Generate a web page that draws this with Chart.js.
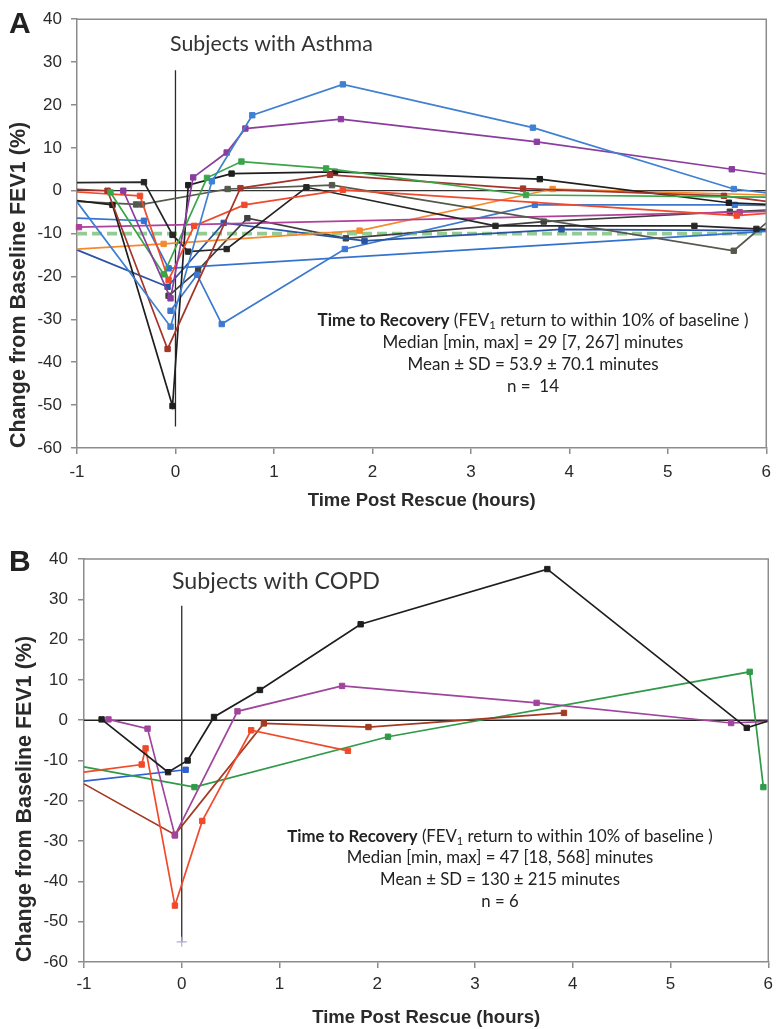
<!DOCTYPE html>
<html><head><meta charset="utf-8">
<script src="https://cdn.jsdelivr.net/npm/chart.js@4.4.1/dist/chart.umd.min.js"></script>
<style>
html,body{margin:0;padding:0;background:#fff;width:779px;height:1029px;overflow:hidden}
#wa{position:absolute;left:0;top:0;width:779px;height:515px}
#wb{position:absolute;left:0;top:515px;width:779px;height:514px}
canvas{display:block}
</style></head><body>
<div id="wa"><canvas id="ca" width="779" height="515" style="width:779px;height:515px"></canvas></div>
<div id="wb"><canvas id="cb" width="779" height="514" style="width:779px;height:514px"></canvas></div>
<script>
// ---------- DATA (hours after rescue, % change from baseline FEV1) ----------
const xTickMin = -1, xTickMax = 6;
const yTickMin = -60, yTickMax = 40;

// Panel A: subjects with asthma (n = 14)
const asthmaBlue1   = [[-1,-2.6],[-0.05,-31.7],[0.37,2.2],[0.78,17.6],[1.7,24.8],[3.63,14.7],[5.67,0.4],[6,-0.5]];
const asthmaPurple  = [[-0.53,0],[-0.05,-25.1],[0.18,3.1],[0.52,8.9],[0.71,14.5],[1.68,16.7],[3.67,11.4],[5.65,5.0],[6,3.9]];
const asthmaGreen   = [[-0.66,-0.4],[-0.12,-19.5],[0.32,3.0],[0.67,6.8],[1.53,5.2],[3.56,-1.0],[6,-1.5]];
const asthmaDarkRed = [[-1,0.3],[-0.69,0],[-0.08,-36.9],[0.66,0.6],[1.57,3.7],[3.53,0.5],[5.57,-1.2],[6,-2.5]];
const asthmaRed     = [[-1,-0.3],[-0.36,-1.2],[-0.07,-20.8],[0.19,-8.2],[0.7,-3.3],[1.7,0.2],[5.7,-5.8],[6,-5.3]];
const asthmaBlack1  = [[-1,1.9],[-0.32,2.0],[-0.03,-10.3],[0.13,-14.2],[0.52,-13.6],[1.33,0.8],[3.25,-8.2],[5.27,-8.2],[5.9,-8.9],[6,-9]];
const asthmaBlack2  = [[-1,-2.3],[-0.64,-3.3],[-0.03,-50.2],[0.13,1.3],[0.57,4.0],[1.62,4.4],[3.7,2.7],[5.62,-2.8],[6,-3.2]];
const asthmaOlive   = [[-1,-2.5],[-0.4,-3.2],[-0.34,-3.2],[0.53,0.4],[1.59,1.3],[5.67,-14],[6,-7.5]];
const asthmaBlue3   = [[-1,-6.4],[-0.32,-7.0],[-0.07,-18.1],[6,-9.5]];
const asthmaMagenta = [[-0.98,-8.5],[5.73,-5.0],[6,-4.8]];
const asthmaOrange  = [[-1,-13.6],[-0.12,-12.4],[1.87,-9.3],[3.83,0.4],[6,-1]];
const asthmaNavy    = [[-1,-13.8],[-0.08,-22.4],[0.49,-7.5],[1.92,-11.7],[3.92,-9.0],[6,-9.3]];
const asthmaBlue2   = [[-0.05,-28],[0.22,-19.6],[0.47,-31.1],[1.72,-13.6],[3.65,-3.3],[5.68,-3.3],[6,-3.4]];
const asthmaGray    = [[-0.07,-24.5],[0.23,-18.5],[0.73,-6.4],[1.73,-11.1],[3.74,-7.2],[5.63,-4.9],[6,-4.5]];
const recoveryBand  = [[-1,-10],[6,-10]];

// Panel B: subjects with COPD (n = 6)
const copdBlack  = [[-0.82,0.2],[-0.14,-12.9],[0.06,-10],[0.33,0.8],[0.8,7.5],[1.83,23.8],[3.74,37.5],[5.78,-1.9],[6,-0.2]];
const copdPurple = [[-0.75,0.2],[-0.35,-2.1],[-0.07,-28.6],[0.57,2.2],[1.64,8.5],[3.63,4.3],[5.62,-0.7],[6,-0.3]];
const copdRed    = [[-1,-12.9],[-0.41,-11],[-0.37,-7],[-0.07,-46],[0.21,-25],[0.71,-2.5],[1.7,-7.6]];
const copdBrown  = [[-1,-15.8],[-0.07,-28.4],[0.84,-0.8],[1.91,-1.7],[3.91,1.8]];
const copdGreen  = [[-1,-11.6],[0.13,-16.6],[2.11,-4.1],[5.81,12.0],[5.95,-16.6]];
const copdBlue   = [[-1,-15.1],[0.04,-12.3]];
const copdMarker = [[0,-55]];

// reference lines
const zeroLine    = [[-1,0],[6,0]];
const rescueLineA = [[0,28.1],[0,-55]];
const rescueLineB = [[0,28.4],[0,-55]];

// text
const xTitle = 'Time Post Rescue (hours)';
const yTitle = 'Change from Baseline FEV1 (%)';
const titleA = 'Subjects with Asthma';
const titleB = 'Subjects with COPD';
const statsA = ['Median [min, max] = 29 [7, 267] minutes', 'Mean \u00b1 SD = 53.9 \u00b1 70.1 minutes', 'n =  14'];
const statsB = ['Median [min, max] = 47 [18, 568] minutes', 'Mean \u00b1 SD = 130 \u00b1 215 minutes', 'n = 6'];

// ---------- RENDERING ----------
const axisFamily = '"Liberation Sans", Arial, sans-serif';
const textFamily = 'Lato, "Open Sans", sans-serif';
const toXY = a => a.map(([x, y]) => ({x, y}));

function series(data, color) {
  return {
    data: toXY(data), borderColor: color, backgroundColor: color, borderWidth: 1.7,
    pointStyle: 'rect', pointBorderWidth: 1,
    pointRadius: c => (c.raw && (c.raw.x <= xTickMin || c.raw.x >= xTickMax)) ? 0 : 3.8,
    tension: 0, fill: false, clip: 4
  };
}
function refLine(data, color, width, dash) {
  return {data: toXY(data), borderColor: color, backgroundColor: color, borderWidth: width,
    borderDash: dash || [], pointRadius: 0, tension: 0, fill: false, clip: 2};
}

function fitSize(ctx, text, weight, target) {
  ctx.font = `${weight} 20px ${textFamily}`;
  return 20 * target / ctx.measureText(text).width;
}

const panelText = {
  id: 'panelText',
  afterDraw(chart, args, o) {
    const {ctx, chartArea: ca} = chart;
    ctx.save();
    // frame top/right
    ctx.strokeStyle = '#8c8c8c'; ctx.lineWidth = 1.5;
    ctx.beginPath(); ctx.moveTo(ca.left, ca.top); ctx.lineTo(ca.right, ca.top); ctx.lineTo(ca.right, ca.bottom); ctx.stroke();
    // panel letter
    ctx.fillStyle = '#222'; ctx.textBaseline = 'middle'; ctx.textAlign = 'left';
    ctx.font = `bold 30px ${axisFamily}`;
    ctx.fillText(o.letter, o.letterX, o.letterY);
    // in-plot title
    const ts = fitSize(ctx, o.title, 'normal', o.titleW);
    ctx.fillStyle = '#333';
    ctx.font = `normal ${ts}px ${textFamily}`;
    ctx.fillText(o.title, o.titleX, o.titleY);
    // stats block
    const s = fitSize(ctx, o.stats[0], 'normal', o.statW);
    ctx.fillStyle = '#222';
    const segs = [
      {t: 'Time to Recovery', f: `bold ${s}px ${textFamily}`, dy: 0},
      {t: ' (FEV', f: `normal ${s}px ${textFamily}`, dy: 0},
      {t: '1', f: `normal ${s*0.66}px ${textFamily}`, dy: s*0.28},
      {t: ' return to within 10% of baseline )', f: `normal ${s}px ${textFamily}`, dy: 0}
    ];
    let total = 0;
    segs.forEach(g => { ctx.font = g.f; g.w = ctx.measureText(g.t).width; total += g.w; });
    let x = o.cx - total / 2;
    ctx.textAlign = 'left';
    segs.forEach(g => { ctx.font = g.f; ctx.fillText(g.t, x, o.ys[0] + g.dy); x += g.w; });
    ctx.textAlign = 'center';
    ctx.font = `normal ${s}px ${textFamily}`;
    o.stats.forEach((line, i) => ctx.fillText(line, o.cx, o.ys[i + 1]));
    ctx.restore();
  }
};

function scales(p) {
  return {
    x: {
      type: 'linear', min: xTickMin, max: xTickMax,
      ticks: {stepSize: 1, font: {size: 17, family: axisFamily}, color: '#2a2a2a', padding: p.xTickPad},
      grid: {drawOnChartArea: false, drawTicks: true, tickLength: 6, color: '#8c8c8c', lineWidth: 1.5},
      border: {display: true, color: '#8c8c8c', width: 1.5},
      title: {display: true, text: xTitle, font: {size: 18.5, weight: 'bold', family: axisFamily}, color: '#2a2a2a', padding: {top: 0, bottom: p.xTitlePad}},
      afterFit(s) { s.height = p.xHeight; }
    },
    y: {
      type: 'linear', min: yTickMin, max: yTickMax,
      ticks: {stepSize: 10, font: {size: 17, family: axisFamily}, color: '#2a2a2a', padding: p.yTickPad},
      grid: {drawOnChartArea: false, drawTicks: true, tickLength: 6, color: '#8c8c8c', lineWidth: 1.5},
      border: {display: true, color: '#8c8c8c', width: 1.5},
      title: {display: true, text: yTitle, align: 'start', font: {size: 21.5, weight: 'bold', family: axisFamily}, color: '#2a2a2a', padding: {top: p.yTitlePad, bottom: 0}},
      afterFit(s) { s.width = p.yWidth; }
    }
  };
}

const common = {
  responsive: false, animation: false, devicePixelRatio: 1,
  plugins: {legend: {display: false}, tooltip: {enabled: false}}
};

new Chart(document.getElementById('ca'), {
  type: 'line',
  data: {datasets: [
    series(asthmaBlue1, '#3f80d2'),
    series(asthmaPurple, '#8a3d9e'),
    series(asthmaGreen, '#3aa548'),
    series(asthmaDarkRed, '#a3352a'),
    series(asthmaRed, '#f0492c'),
    series(asthmaBlack1, '#262626'),
    series(asthmaBlack2, '#1e1e1e'),
    series(asthmaOlive, '#55584c'),
    series(asthmaBlue3, '#3372d0'),
    series(asthmaMagenta, '#b0409a'),
    series(asthmaOrange, '#f5892c'),
    series(asthmaNavy, '#2a54a3'),
    series(asthmaBlue2, '#3c78d0'),
    series(asthmaGray, '#404040'),
    refLine(rescueLineA, '#2a2a2a', 1.3),
    refLine(zeroLine, '#333333', 1.3),
    refLine(recoveryBand, '#93cc93', 3.6, [10, 5]),
  ]},
  options: Object.assign({}, common, {
    layout: {padding: {top: 19, right: 6, left: 0, bottom: 0}},
    scales: scales({xTickPad: 8, xTitlePad: 3, xHeight: 67, yTickPad: 9, yTitlePad: 6, yWidth: 77}),
    plugins: Object.assign({}, common.plugins, {panelText: {
      letter: 'A', letterX: 9, letterY: 25,
      title: titleA, titleX: 170, titleY: 44, titleW: 203,
      stats: statsA, statW: 301, cx: 533, ys: [321, 343, 365, 387]
    }})
  }),
  plugins: [panelText]
});

new Chart(document.getElementById('cb'), {
  type: 'line',
  data: {datasets: [
    series(copdBlack, '#1e1e1e'),
    series(copdPurple, '#a0449c'),
    series(copdRed, '#f04a2a'),
    series(copdBrown, '#a33a22'),
    series(copdGreen, '#2f9a48'),
    series(copdBlue, '#2f5fd0'),
    Object.assign(refLine(copdMarker, '#b4a6dc', 1.2), {pointRadius: 5, pointStyle: 'cross', pointBorderWidth: 1.2, showLine: false}),
    refLine(rescueLineB, '#2a2a2a', 1.3),
    refLine(zeroLine, '#222222', 1.4),
  ]},
  options: Object.assign({}, common, {
    layout: {padding: {top: 44, right: 9, left: 0, bottom: 0}},
    scales: scales({xTickPad: 6, xTitlePad: 0, xHeight: 67, yTickPad: 10, yTitlePad: 12, yWidth: 84}),
    plugins: Object.assign({}, common.plugins, {panelText: {
      letter: 'B', letterX: 9, letterY: 48,
      title: titleB, titleX: 172, titleY: 67, titleW: 208,
      stats: statsB, statW: 307, cx: 500, ys: [321.7, 343, 365, 386.7]
    }})
  }),
  plugins: [panelText]
});
</script>
</body></html>
